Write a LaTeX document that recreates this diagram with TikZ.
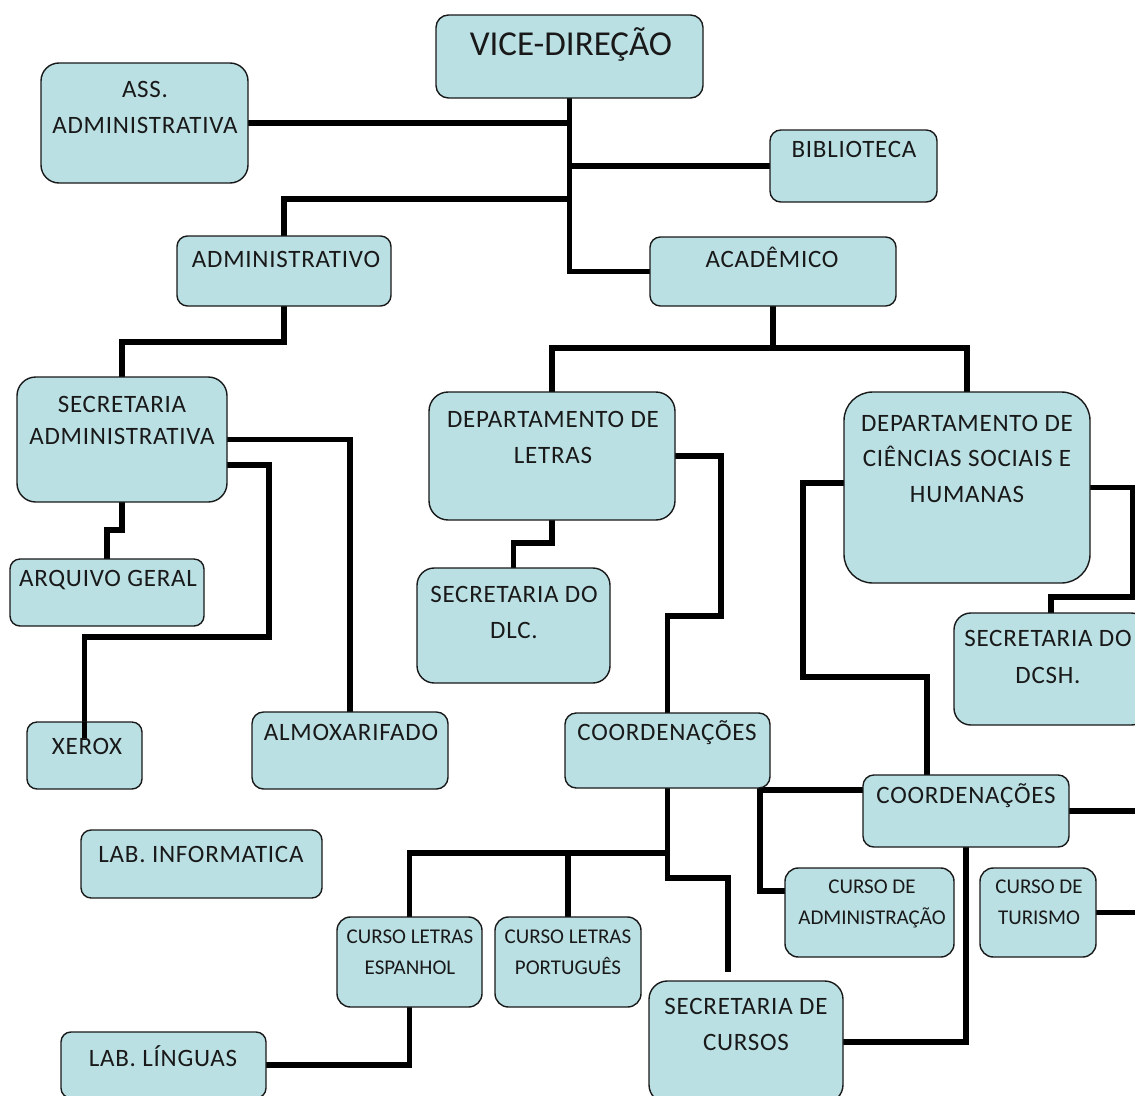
\documentclass[tikz,border=0pt]{standalone}
\usepackage{fontspec}
\setmainfont{Carlito}
\newfontfamily\lsfont{Carlito}[LetterSpace=3]
\usetikzlibrary{calc}
\definecolor{boxfill}{RGB}{186,224,228}
\newcommand\fbig{\fontsize{35}{40}\selectfont}
\newcommand\fmain{\lsfont\fontsize{25}{35.5}\selectfont}
\newcommand\fsmall{\fontsize{21}{31}\selectfont}
\newcommand\obox[5]{%
 \pgfmathsetmacro\oxc{(#2+#4)/2}%
 \pgfmathsetmacro\oyc{(#3+#5)/2}%
 \pgfmathsetmacro\obw{#4-#2}%
 \pgfmathsetmacro\obh{#5-#3}%
 \pgfmathsetmacro\orr{0.15*min(\obw,\obh)}%
 \node[box, minimum width=\obw pt, minimum height=\obh pt, rounded corners=\orr pt] (#1) at (\oxc,\oyc) {};}
\tikzset{
 box/.style={draw=black!90, line width=1.4pt, fill=boxfill, inner sep=0pt, outer sep=0pt},
 link/.style={line width=5.5pt, black},
 lbl/.style={font=\fmain, align=center, anchor=base, inner sep=0pt, text=black!90},
 slbl/.style={lbl, font=\fsmall},
}
\begin{document}
\begin{tikzpicture}[x=1pt, y=-1pt]
\clip (0,0) rectangle (1135,1095);
\fill[white] (0,0) rectangle (1135,1095);
% boxes (created first for names; drawn again later on top of links)
\begin{scope}[transparent]
\obox{vice}{436}{15}{703}{98}
\obox{ass}{41}{63}{248}{183}
\obox{biblio}{770}{130}{937}{202}
\obox{adm}{177}{236}{391}{306}
\obox{acad}{650}{237}{896}{306}
\obox{secadm}{17}{377}{227}{502}
\obox{dlet}{429}{392}{675}{520}
\obox{dcsh}{844}{392}{1090}{583}
\obox{arquivo}{10}{559}{204}{626}
\obox{secdlc}{417}{568}{610}{683}
\obox{secdcsh}{954}{613}{1148}{725}
\obox{xerox}{27}{722}{142}{789}
\obox{almox}{252}{712}{448}{789}
\obox{coordL}{565}{713}{770}{788}
\obox{coordR}{863}{775}{1069}{847}
\obox{labinfo}{81}{830}{322}{898}
\obox{cadm}{785}{868}{954}{957}
\obox{tur}{980}{868}{1096}{957}
\obox{esp}{337}{917}{482}{1007}
\obox{port}{495}{917}{641}{1007}
\obox{seccur}{649}{981}{843}{1103}
\obox{lablin}{61}{1032}{266}{1098}
\end{scope}
% connectors
\draw[link] (vice.south) |- (acad.west);
\draw[link] (ass.east) -- (ass.east -| vice.south);
\draw[link] (biblio.west) -- (biblio.west -| vice.south);
\draw[link] ($(vice.south)+(0,101)$) -| (adm.north);
\draw[link] (adm.south) -- ++(0,36) -| (secadm.north);
\draw[link] (secadm.east) -| (almox.north);
\coordinate (xbend) at (269,637);
\draw[link] ($(secadm.east)+(0,25.5)$) -| (xbend) -| ($(xerox.north)+(0,18)$);
\draw[link] (secadm.south) -- ++(0,28) -| (arquivo.north);
\draw[link] (acad.south) -- ++(0,42);
\draw[link] (dlet.north) -- ++(0,-44) -| (dcsh.north);
\draw[link] (dlet.south) -- ++(0,23) -| (secdlc.north);
\coordinate (lbend) at (721,616);
\draw[link] (dlet.east) -| (lbend) -| (coordL.north);
\coordinate (cbend) at (803,677);
\draw[link] ($(dcsh.west)+(0,-4.5)$) -| (cbend) -| ($(coordR.north)+(-39,0)$);
\coordinate (sbend) at (1133,597);
\draw[link] (dcsh.east) -| (sbend) -| (secdcsh.north);
\draw[link] ($(coordR.west)+(0,-21)$) -- ++(-103,0) |- ($(cadm.west)+(0,-21.5)$);
\draw[link] (coordL.south) -- ++(0,90) -| ($(seccur.north)+(-18,-9)$);
\draw[link] ($(coordL.south)+(0,65)$) -| (esp.north);
\draw[link] (port.north) -- ++(0,-64);
\draw[link] (coordR.south) |- (seccur.east);
\draw[link] (coordR.east) -- ++(70,0);
\draw[link] (tur.east) -- ++(45,0);
\draw[link] (esp.south) |- (lablin.east);
% boxes drawn on top
\obox{vice}{436}{15}{703}{98}
\obox{ass}{41}{63}{248}{183}
\obox{biblio}{770}{130}{937}{202}
\obox{adm}{177}{236}{391}{306}
\obox{acad}{650}{237}{896}{306}
\obox{secadm}{17}{377}{227}{502}
\obox{dlet}{429}{392}{675}{520}
\obox{dcsh}{844}{392}{1090}{583}
\obox{arquivo}{10}{559}{204}{626}
\obox{secdlc}{417}{568}{610}{683}
\obox{secdcsh}{954}{613}{1148}{725}
\obox{xerox}{27}{722}{142}{789}
\obox{almox}{252}{712}{448}{789}
\obox{coordL}{565}{713}{770}{788}
\obox{coordR}{863}{775}{1069}{847}
\obox{labinfo}{81}{830}{322}{898}
\obox{cadm}{785}{868}{954}{957}
\obox{tur}{980}{868}{1096}{957}
\obox{esp}{337}{917}{482}{1007}
\obox{port}{495}{917}{641}{1007}
\obox{seccur}{649}{981}{843}{1103}
\obox{lablin}{61}{1032}{266}{1098}
% line over the XEROX box
\draw[link] (xerox.north) -- ++(0,18);
% labels (anchor base = baseline of the last line)
\node[lbl, font=\fbig] (vice-t) at (571,55) {VICE-DIREÇÃO};
\node[lbl] (ass-t) at (145,133) {ASS.\\ADMINISTRATIVA};
\node[lbl] (biblio-t) at (854,157) {BIBLIOTECA};
\node[lbl] (adm-t) at (286,267) {ADMINISTRATIVO};
\node[lbl] (acad-t) at (772,267) {ACADÊMICO};
\node[lbl, font=\lsfont\fontsize{25}{32}\selectfont] (secadm-t) at (122,444) {SECRETARIA\\ADMINISTRATIVA};
\node[lbl] (dlet-t) at (553,463) {DEPARTAMENTO DE\\LETRAS};
\node[lbl] (dcsh-t) at (967,502) {DEPARTAMENTO DE\\CIÊNCIAS SOCIAIS E\\HUMANAS};
\node[lbl] (arquivo-t) at (108,586) {ARQUIVO GERAL};
\node[lbl] (secdlc-t) at (514,638) {SECRETARIA DO\\DLC.};
\node[lbl, font=\lsfont\fontsize{25}{37}\selectfont] (secdcsh-t) at (1048,683) {SECRETARIA DO\\DCSH.};
\node[lbl] (xerox-t) at (87,754) {XEROX};
\node[lbl] (almox-t) at (351,740) {ALMOXARIFADO};
\node[lbl] (coordL-t) at (667,740) {COORDENAÇÕES};
\node[lbl] (coordR-t) at (966,803) {COORDENAÇÕES};
\node[lbl] (labinfo-t) at (201,862) {LAB. INFORMATICA};
\node[slbl] (cadm-t) at (872,924) {CURSO DE\\ADMINISTRAÇÃO};
\node[slbl] (tur-t) at (1039,924) {CURSO DE\\TURISMO};
\node[slbl] (esp-t) at (410,974) {CURSO LETRAS\\ESPANHOL};
\node[slbl] (port-t) at (568,974) {CURSO LETRAS\\PORTUGUÊS};
\node[lbl] (seccur-t) at (746,1050) {SECRETARIA DE\\CURSOS};
\node[lbl] (lablin-t) at (163,1066) {LAB. LÍNGUAS};
\end{tikzpicture}
\end{document}
